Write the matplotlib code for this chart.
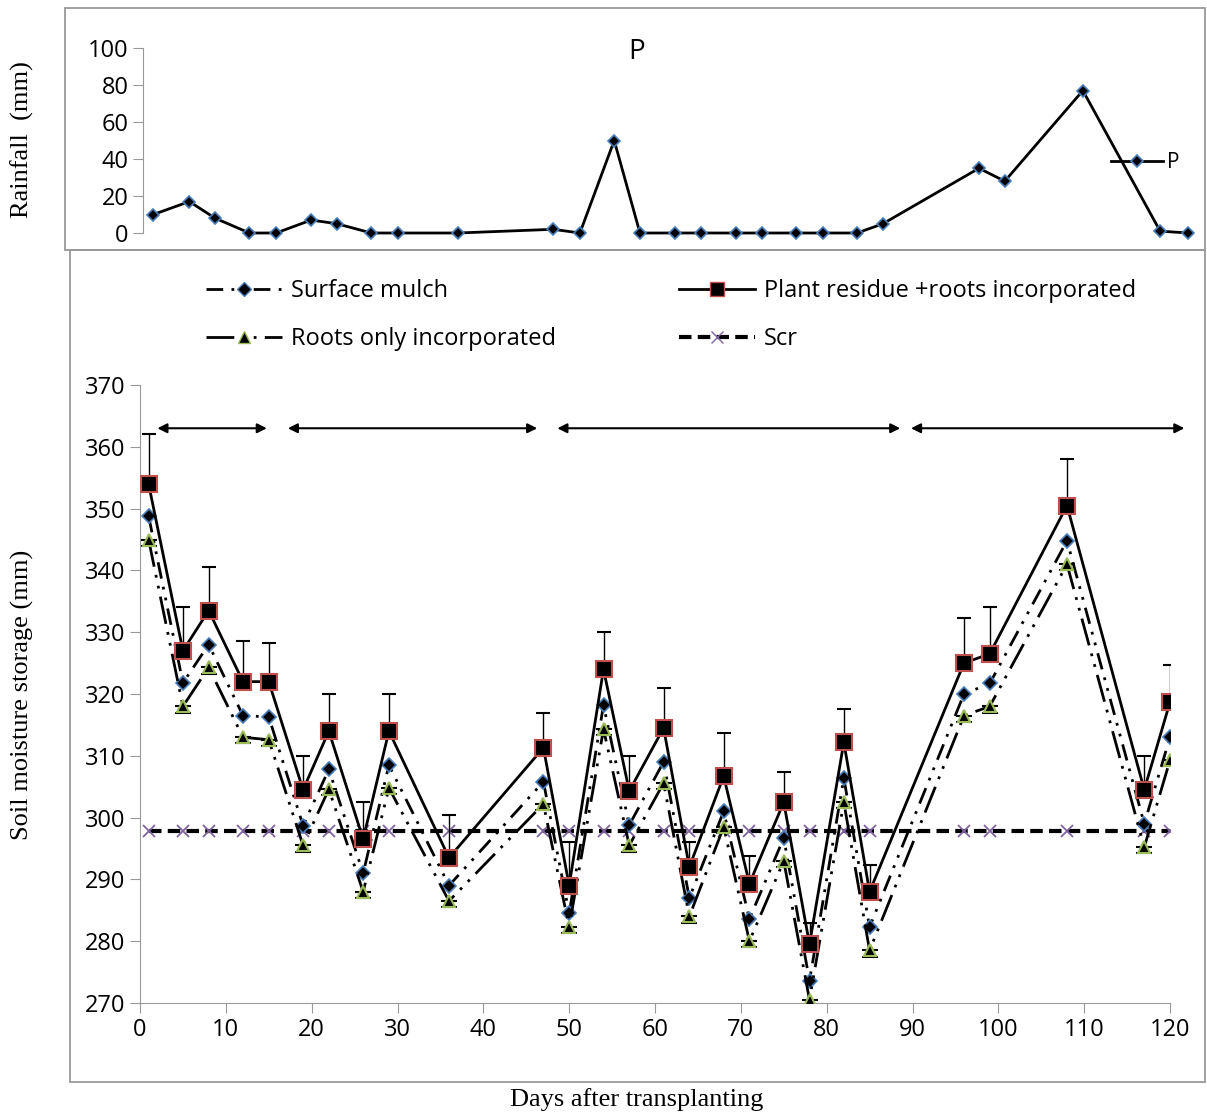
import matplotlib.pyplot as plt
from matplotlib.patches import Rectangle
from matplotlib.lines import Line2D

plt.rcParams['font.family'] = ['Open Sans', 'DejaVu Sans']

# rainfall panel
rain_days = [1.2, 5.4, 8.4, 12.4, 15.5, 19.6, 22.6, 26.6, 29.7, 36.7, 47.8, 50.9, 54.9, 57.9,
             62.0, 65.0, 69.1, 72.1, 76.1, 79.2, 83.2, 86.2, 97.4, 100.4, 109.5, 118.5, 121.8]
rain_mm = [10, 17, 8, 0, 0, 7, 5, 0, 0, 0, 2, 0, 50, 0, 0, 0, 0, 0, 0, 0, 0, 5, 35, 28, 77, 1, 0]

# soil moisture panel
days = [1, 5, 8, 12, 15, 19, 22, 26, 29, 36, 47, 50, 54, 57, 61, 64, 68, 71, 75, 78, 82, 85, 96, 99, 108, 117, 120]
plant_residue = [354, 327, 333.5, 322, 322, 304.5, 314, 296.5, 314, 293.5, 311.3, 289, 324, 304.3,
                 314.5, 292, 306.7, 289.3, 302.5, 279.5, 312.2, 288, 325, 326.5, 350.5, 304.5, 318.7]
plant_err = [8, 7, 7, 6.5, 6.3, 5.5, 6, 6, 6, 7, 5.7, 7, 6, 5.7, 6.5, 4, 7, 4.5, 4.8, 3.5, 5.3, 4.3,
             7.3, 7.5, 7.5, 5.5, 6]
surface_mulch = [348.8, 321.8, 328, 316.5, 316.3, 298.7, 307.8, 291, 308.5, 289, 305.8, 284.5, 318.2,
                 298.8, 309, 287, 301, 283.6, 296.7, 273.6, 306.4, 282.3, 320, 321.7, 344.8, 299, 313]
roots_only = [345, 318, 324.3, 313, 312.6, 295.5, 304.6, 288, 304.8, 286.5, 302.2, 282.3, 314.3, 295.5,
              305.6, 284, 298.5, 280, 293, 270.5, 302.5, 278.5, 316.5, 318, 341, 295.2, 309.3]
roots_err = [1] * 27
scr = [297.8] * 27
stages = [(1.7, 15.1), (16.9, 46.6), (48.3, 88.9), (89.5, 122)]

fig = plt.figure(figsize=(12.07, 11.15), dpi=100)
W, H = 1207, 1115

def fbox(x0, y0, x1, y1):
    return [x0 / W, 1 - y1 / H, (x1 - x0) / W, (y1 - y0) / H]

# panel frames
for x0, y0, x1, y1 in [(65, 8, 1205, 250), (70, 250, 1205, 1082)]:
    fig.patches.append(Rectangle((x0 / W, 1 - y1 / H), (x1 - x0) / W, (y1 - y0) / H,
                                 transform=fig.transFigure, fill=False, ec='#999999', lw=1.3))

# top
ax1 = fig.add_axes(fbox(143, 48, 1173, 233))
ax1.plot(rain_days, rain_mm, color='black', lw=2, marker='D', ms=6, mfc='black', mec='#4a7ebb',
         mew=1.2, label='P', clip_on=False)
ax1.set_xlim(0, 120)
ax1.set_ylim(0, 100)
ax1.set_yticks(range(0, 101, 20))
ax1.set_xticks([])
for s in ['top', 'right', 'bottom']:
    ax1.spines[s].set_visible(False)
ax1.spines['left'].set_color('#999999')
ax1.tick_params(axis='y', labelsize=17, color='#999999', length=7)
fig.text(22 / W, 1 - 140 / H, 'Rainfall  (mm)', family='Liberation Serif', fontsize=19,
         rotation=90, ha='center', va='center')
fig.text(637 / W, 1 - 52 / H, 'P', fontsize=20, ha='center', va='center')
fig.legend(handles=ax1.get_lines(), labels=['P'], loc='center', bbox_to_anchor=(1145 / W, 1 - 163 / H),
           frameon=False, fontsize=15, handlelength=2.5, handletextpad=0.2)

# bottom
ax2 = fig.add_axes(fbox(140, 385, 1170, 1003))
ax2.errorbar(days, plant_residue, yerr=[[0] * 27, plant_err], color='black', lw=2, marker='s', ms=11,
             mfc='black', mec='#c0504d', mew=1.5, capsize=5, elinewidth=1, ecolor='black', zorder=4)
ax2.plot(days, surface_mulch, color='black', lw=2, ls=(0, (6, 3, 1, 3, 1, 3)), marker='D', ms=7,
         mfc='black', mec='#4a7ebb', mew=1.2, zorder=3)
ax2.errorbar(days, roots_only, yerr=[roots_err, [0] * 27], color='black', lw=2,
             ls=(0, (10, 3, 1, 3, 1, 3)), marker='^', ms=9, mfc='black', mec='#9bbb59', mew=1.5,
             capsize=6, elinewidth=1, ecolor='black', zorder=3)
ax2.plot(days, scr, color='black', lw=3, ls=(0, (3, 1.5)), marker='x', ms=9, mec='#8064a2', mew=1.3,
         zorder=2)
for a, b in stages:
    ax2.annotate('', xy=(b, 363), xytext=(a, 363), annotation_clip=False,
                 arrowprops=dict(arrowstyle='<|-|>', color='black', lw=1.5, mutation_scale=14))
ax2.set_xlim(0, 120)
ax2.set_ylim(270, 370)
ax2.set_xticks(range(0, 121, 10))
ax2.set_yticks(range(270, 371, 10))
for s in ['top', 'right']:
    ax2.spines[s].set_visible(False)
for s in ['left', 'bottom']:
    ax2.spines[s].set_color('#999999')
ax2.tick_params(labelsize=17, color='#999999', length=7)
fig.text(22 / W, 1 - 695 / H, 'Soil moisture storage (mm)', family='Liberation Serif', fontsize=19,
         rotation=90, ha='center', va='center')
fig.text(637 / W, 1 - 1100 / H, 'Days after transplanting', family='Liberation Serif', fontsize=19,
         ha='center', va='center')

handles = [
    Line2D([], [], color='black', lw=2, ls=(0, (6, 3, 1, 3, 1, 3)), marker='D', ms=7, mfc='black', mec='#4a7ebb'),
    Line2D([], [], color='black', lw=2, ls=(0, (10, 3, 1, 3, 1, 3)), marker='^', ms=9, mfc='black', mec='#9bbb59'),
    Line2D([], [], color='black', lw=2, marker='s', ms=10, mfc='black', mec='#c0504d'),
    Line2D([], [], color='black', lw=3, ls=(0, (3, 1.5)), marker='x', ms=9, mec='#8064a2'),
]
labels = ['Surface mulch', 'Roots only incorporated', 'Plant residue +roots incorporated', 'Scr']
fig.legend(handles, labels, loc='center left', bbox_to_anchor=(185 / W, 1 - 315 / H), ncol=2, frameon=False,
           fontsize=17, handlelength=3.2, handletextpad=0.4, columnspacing=5.2, labelspacing=1.0)

fig.savefig('out.png', dpi=100)
